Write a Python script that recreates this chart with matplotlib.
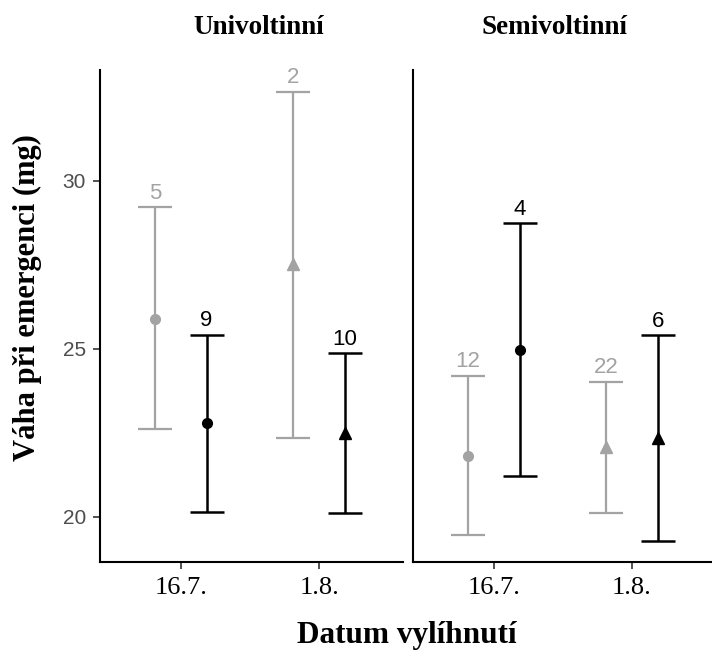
import matplotlib
matplotlib.use("Agg")
import matplotlib.pyplot as plt
import numpy as np

panels = ["Univoltinní", "Semivoltinní"]
dates = ["16.7.", "1.8."]
groups = ["grey", "black"]

# values per panel: [date][group]
means = {"Univoltinní": [[25.90, 22.79], [27.53, 22.49]],
         "Semivoltinní": [[21.82, 24.97], [22.09, 22.34]]}
upper = {"Univoltinní": [[29.22, 25.42], [32.66, 24.87]],
         "Semivoltinní": [[24.20, 28.74], [24.03, 25.41]]}
lower = {"Univoltinní": [[22.61, 20.15], [22.36, 20.11]],
         "Semivoltinní": [[19.46, 21.21], [20.11, 19.29]]}
counts = {"Univoltinní": [["5", "9"], ["2", "10"]],
          "Semivoltinní": [["12", "4"], ["22", "6"]]}

colors = ["#A3A3A3", "#000000"]
markers = ["o", "^"]  # by date
dodge = [-0.187, 0.187]

W, H = 712, 651
fig = plt.figure(figsize=(W / 100, H / 100), dpi=100)

rects = [(100, 70, 403, 562), (413, 70, 712, 562)]
ylim = (18.66, 33.30)

for pi, (panel, r) in enumerate(zip(panels, rects)):
    x0, y0, x1, y1 = r
    ax = fig.add_axes([x0 / W, (H - y1) / H, (x1 - x0) / W, (y1 - y0) / H])
    for di in range(len(dates)):
        for gi in range(len(groups)):
            x = di + dodge[gi]
            m = means[panel][di][gi]
            up = upper[panel][di][gi]
            lo = lower[panel][di][gi]
            c = colors[gi]
            lw = 1.6 if gi == 0 else 1.8
            ax.errorbar([x], [m], yerr=[[m - lo], [up - m]], fmt="none",
                        ecolor=c, elinewidth=lw, capsize=12, capthick=lw, zorder=2)
            ax.plot([x], [m], marker=markers[di], color=c,
                    markersize=7 if di == 0 else 8, linestyle="none", zorder=3)
            ax.text(x, up + 0.1, counts[panel][di][gi], ha="center", va="bottom",
                    color=c, fontsize=16, family="Liberation Sans")
    ax.set_ylim(*ylim)
    ax.set_xlim(-0.584, 1.607 if pi == 0 else 1.58)
    ax.set_xticks(range(len(dates)))
    ax.set_xticklabels(dates, family="Liberation Serif", fontsize=19, color="black")
    for s in ["top", "right"]:
        ax.spines[s].set_visible(False)
    for s in ["left", "bottom"]:
        ax.spines[s].set_linewidth(1.5)
        ax.spines[s].set_color("black")
    ax.tick_params(axis="x", length=5, width=1.2, color="#333333", pad=6)
    if pi == 0:
        ax.set_yticks([20, 25, 30])
        ax.set_yticklabels(["20", "25", "30"], family="Liberation Sans",
                           fontsize=15, color="#4D4D4D")
        ax.tick_params(axis="y", length=5, width=1.2, color="#333333", pad=5)
    else:
        ax.set_yticks([])

fig.text(259 / W, 1 - 28 / H, "Univoltinní", ha="center", va="center",
         family="Liberation Serif", fontweight="bold", fontsize=19.5)
fig.text(554 / W, 1 - 28 / H, "Semivoltinní", ha="center", va="center",
         family="Liberation Serif", fontweight="bold", fontsize=19.5)
fig.text(27 / W, 1 - 298 / H, "Váha při emergenci (mg)", ha="center", va="center",
         rotation=90, family="Liberation Serif", fontweight="bold", fontsize=22)
fig.text(407 / W, 1 - 636 / H, "Datum vylíhnutí", ha="center", va="center",
         family="Liberation Serif", fontweight="bold", fontsize=22.5)

fig.savefig("out.png", dpi=100)
